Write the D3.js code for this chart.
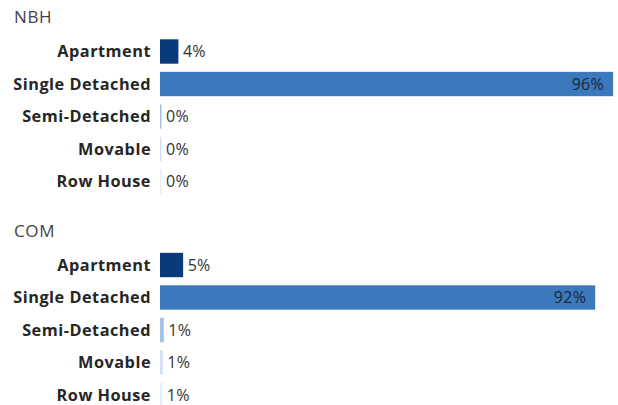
<!DOCTYPE html>
<html>
<head>
<meta charset="utf-8">
<script src="https://cdn.jsdelivr.net/npm/d3@7"></script>
<style>
  html, body { margin: 0; padding: 0; background: #ffffff; }
  svg { display: block; }
  text { font-family: "Open Sans", sans-serif; }
</style>
</head>
<body>
<svg id="chart" width="618" height="405"></svg>
<script>
const categories = ["Apartment", "Single Detached", "Semi-Detached", "Movable", "Row House"];
const groups = ["NBH", "COM"];
const nbhValues = [3.9, 96.0, 0.3, 0.2, 0.2];
const comValues = [4.9, 92.2, 0.8, 0.6, 0.5];
const nbhLabels = ["4%", "96%", "0%", "0%", "0%"];
const comLabels = ["5%", "92%", "1%", "1%", "1%"];
const barColors = ["#0a3a7a", "#3c78bc", "#a3c2e6", "#d3e1f2", "#e6eef8"];

const svg = d3.select("#chart");
const x = d3.scaleLinear().domain([0, 100]).range([160, 632]);
const color = d3.scaleOrdinal().domain(categories).range(barColors);

const groupData = [
  { name: groups[0], values: nbhValues, labels: nbhLabels, top: 0 },
  { name: groups[1], values: comValues, labels: comLabels, top: 213.5 }
];

groupData.forEach(g => {
  const y = d3.scaleBand().domain(categories).range([g.top + 31.2, g.top + 201.8]).padding(0.25);
  const gg = svg.append("g");

  gg.append("text")
    .attr("x", 14).attr("y", g.top + 23)
    .attr("font-size", 17).attr("letter-spacing", 0.6).attr("fill", "#444")
    .text(g.name);

  const rows = categories.map((c, i) => ({ cat: c, v: g.values[i], label: g.labels[i] }));

  gg.selectAll("text.cat").data(rows).join("text")
    .attr("class", "cat")
    .attr("x", 151)
    .attr("y", d => y(d.cat) + y.bandwidth() / 2)
    .attr("dy", "0.35em")
    .attr("text-anchor", "end")
    .attr("font-size", 16.3).attr("letter-spacing", 0.5)
    .attr("font-weight", "bold").attr("fill", "#262626")
    .text(d => d.cat);

  gg.selectAll("rect").data(rows).join("rect")
    .attr("x", x(0))
    .attr("y", d => y(d.cat))
    .attr("width", d => Math.max(1.5, x(d.v) - x(0)))
    .attr("height", y.bandwidth())
    .attr("fill", d => color(d.cat));

  gg.selectAll("text.val").data(rows).join("text")
    .attr("class", "val")
    .attr("x", d => d.v > 50 ? x(d.v) - 9 : Math.max(x(d.v), x(0) + 1.5) + 4.5)
    .attr("y", d => y(d.cat) + y.bandwidth() / 2)
    .attr("dy", "0.35em")
    .attr("text-anchor", d => d.v > 50 ? "end" : "start")
    .attr("font-size", 16).attr("letter-spacing", 0.3)
    .attr("fill", d => d.v > 50 ? "#1c2636" : "#333")
    .text(d => d.label);
});
</script>
</body>
</html>
